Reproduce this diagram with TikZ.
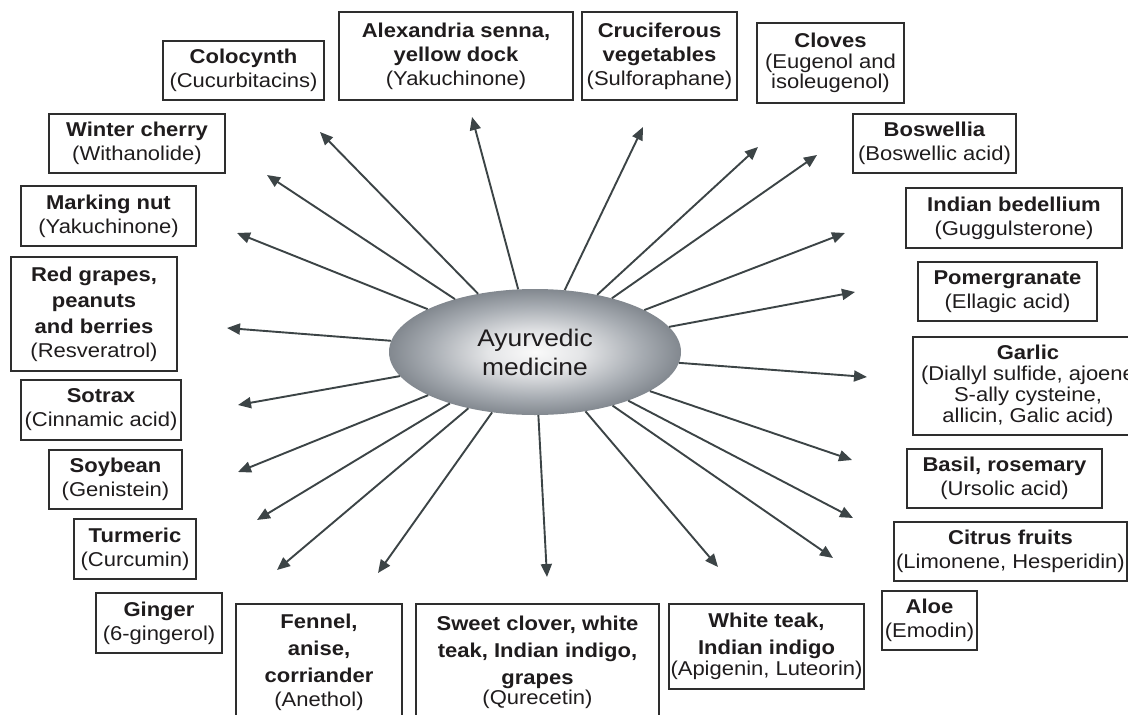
\documentclass[tikz,border=0pt]{standalone}
\usepackage{fontspec}
\setmainfont{Liberation Sans}[FakeStretch=1.1]
\usetikzlibrary{shapes.geometric,arrows.meta}
\definecolor{arrc}{HTML}{3C4446}
\definecolor{boxc}{HTML}{2E2E2E}
\definecolor{txt}{HTML}{1F1C1D}
\definecolor{ctr}{RGB}{250,250,250}
\definecolor{mid1}{RGB}{228,229,231}
\definecolor{mid2}{RGB}{168,173,179}
\definecolor{edgec}{RGB}{130,136,143}
\pgfdeclareradialshading{ayur}{\pgfpoint{0bp}{0bp}}{color(0bp)=(ctr); color(8bp)=(mid1); color(18bp)=(mid2); color(25bp)=(edgec); color(50bp)=(edgec)}
\tikzset{
  box/.style={draw=boxc, line width=1.2pt, align=center, inner sep=0pt, text=txt,
    font=\fontsize{20}{24}\selectfont},
  tight/.style={font=\fontsize{20}{21}\selectfont},
  arr/.style={draw=arrc, line width=1.9pt, -{Triangle[length=13pt,width=11pt]}},
  hub/.style={ellipse, shading=ayur, inner sep=0pt, minimum width=292pt, minimum height=126pt,
    align=center, text=txt, font=\fontsize{24}{29}\selectfont},
}
\begin{document}
\begin{tikzpicture}[x=1pt,y=-1pt]
\useasboundingbox (0,0) rectangle (1128,715);
\clip (0,0) rectangle (1128,715);
\fill[white] (0,0) rectangle (1128,715);

% boxes
\node[box, minimum width=161pt, minimum height=59pt] (colo) at (243.5,70.5) {\textbf{Colocynth}\\(Cucurbitacins)};
\node[box, minimum width=234pt, minimum height=88pt] (alex) at (456,56) {\textbf{Alexandria senna,}\\\textbf{yellow dock}\\(Yakuchinone)};
\node[box, minimum width=155pt, minimum height=88pt] (cruc) at (659.5,56) {\textbf{Cruciferous}\\\textbf{vegetables}\\(Sulforaphane)};
\node[box, tight, minimum width=147pt, minimum height=80pt] (clov) at (830.5,63) {\textbf{Cloves}\\(Eugenol and\\[-1pt]isoleugenol)};
\node[box, minimum width=163pt, minimum height=59pt] (bosw) at (934.5,143.5) {\textbf{Boswellia}\\(Boswellic acid)};
\node[box, minimum width=216pt, minimum height=60pt] (bdel) at (1014,218) {\textbf{Indian bedellium}\\(Guggulsterone)};
\node[box, minimum width=179pt, minimum height=59pt] (pome) at (1007.5,291.5) {\textbf{Pomergranate}\\(Ellagic acid)};
\node[box, tight, minimum width=230pt, minimum height=98pt] (garl) at (1028,386) {\textbf{Garlic}\\(Diallyl sulfide, ajoene\\S-ally cysteine,\\allicin, Galic acid)};
\node[box, minimum width=195pt, minimum height=59pt] (basi) at (1004.5,478.5) {\textbf{Basil, rosemary}\\(Ursolic acid)};
\node[box, minimum width=233pt, minimum height=59pt] (citr) at (1010.5,551.5) {\textbf{Citrus fruits}\\(Limonene, Hesperidin)};
\node[box, minimum width=95pt, minimum height=59pt] (aloe) at (929.5,620.5) {\textbf{Aloe}\\(Emodin)};
\node[box, minimum width=195pt, minimum height=85pt] (wtea) at (766.5,646.5) {\textbf{White teak,}\\[3pt]\textbf{Indian indigo}\\[-3pt](Apigenin, Luteorin)};
\node[box, minimum width=243pt, minimum height=116pt] (swee) at (537.5,662) {\textbf{Sweet clover, white}\\[3pt]\textbf{teak, Indian indigo,}\\[3pt]\textbf{grapes}\\[-4pt](Qurecetin)};
\node[box, minimum width=166pt, minimum height=116pt] (fenn) at (319,662) {\textbf{Fennel,}\\[3pt]\textbf{anise,}\\[3pt]\textbf{corriander}\\(Anethol)};
\node[box, minimum width=126pt, minimum height=60pt] (ging) at (159,623) {\textbf{Ginger}\\(6-gingerol)};
\node[box, minimum width=122pt, minimum height=60pt] (turm) at (135,549) {\textbf{Turmeric}\\(Curcumin)};
\node[box, minimum width=133pt, minimum height=59pt] (soyb) at (115.5,479.5) {\textbf{Soybean}\\(Genistein)};
\node[box, minimum width=160pt, minimum height=60pt] (sotr) at (101,410) {\textbf{Sotrax}\\(Cinnamic acid)};
\node[box, minimum width=166pt, minimum height=114pt] (redg) at (94,314) {\textbf{Red grapes,}\\[2pt]\textbf{peanuts}\\[2pt]\textbf{and berries}\\(Resveratrol)};
\node[box, minimum width=175pt, minimum height=60pt] (mark) at (108.5,216) {\textbf{Marking nut}\\(Yakuchinone)};
\node[box, minimum width=176pt, minimum height=59pt] (wint) at (137,143.5) {\textbf{Winter cherry}\\(Withanolide)};

% arrow tips
\coordinate (tcolo) at (320,132);
\coordinate (twint) at (267,175);
\coordinate (tmark) at (237,233);
\coordinate (tredg) at (227,328);
\coordinate (tsotr) at (238,405);
\coordinate (tsoyb) at (238,472);
\coordinate (tturm) at (257,520);
\coordinate (tging) at (277,570);
\coordinate (tfenn) at (378,573);
\coordinate (tswee) at (547,577);
\coordinate (twtea) at (718,567);
\coordinate (taloe) at (833,558);
\coordinate (tcitr) at (853,518);
\coordinate (tbasi) at (852,460);
\coordinate (tgarl) at (867,377);
\coordinate (tpome) at (855,292);
\coordinate (tbdel) at (845,233);
\coordinate (tbosw) at (817,155);
\coordinate (tclov) at (758,147);
\coordinate (tcruc) at (643,127);
\coordinate (talex) at (472,117);

% hub
\node[hub] (ayur) at (535,352) {Ayurvedic\\medicine};

\foreach \t in {tcolo,twint,tmark,tredg,tsotr,tsoyb,tturm,tging,tfenn,tswee,twtea,taloe,tcitr,tbasi,tgarl,tpome,tbdel,tbosw,tclov,tcruc,talex}
  \draw[arr] (ayur) -- (\t);
\end{tikzpicture}
\end{document}
